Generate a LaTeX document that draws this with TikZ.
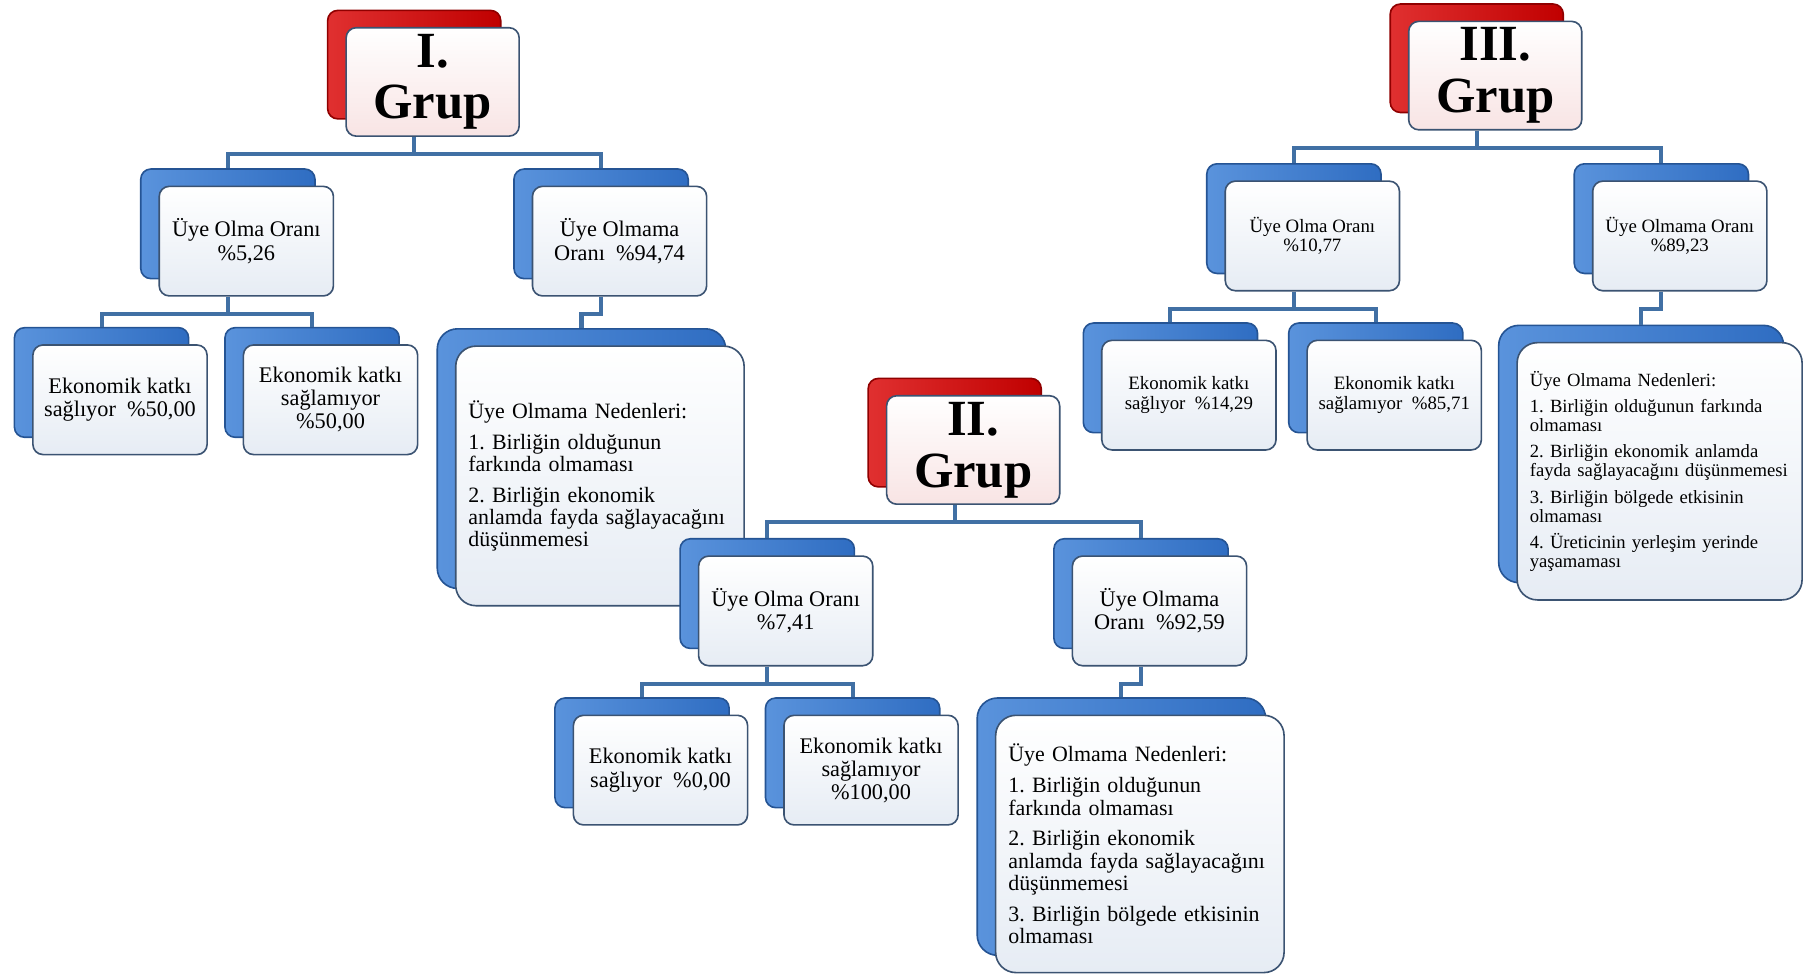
\documentclass[tikz,border=0pt]{standalone}
\usepackage{fontspec}
\setmainfont{Liberation Serif}
\usetikzlibrary{shadows}
\definecolor{slateedge}{HTML}{3B5372}
\definecolor{cardface}{HTML}{E6ECF4}
\definecolor{pinkface}{HTML}{F8E4E4}
\definecolor{blueshine}{HTML}{5A93DC}
\definecolor{bluebase}{HTML}{2F6DC2}
\definecolor{blueedge}{HTML}{255494}
\definecolor{redshine}{HTML}{E03030}
\definecolor{redbase}{HTML}{C00000}
\definecolor{rededge}{HTML}{900000}
\definecolor{linkblue}{HTML}{4170A4}
\frenchspacing

\begin{document}
\begin{tikzpicture}[
  card/.style={draw=slateedge, line width=0.8pt, rounded corners=5pt,
               top color=white, bottom color=cardface, align=center, inner sep=2pt},
  bluecard/.style={card, copy shadow={shadow xshift=-3.2mm, shadow yshift=3mm,
               left color=blueshine, right color=bluebase, draw=blueedge}},
  grp/.style={card, bottom color=pinkface, minimum width=3cm, minimum height=1.88cm,
              font=\bfseries\fontsize{25}{25.5}\selectfont,
              copy shadow={shadow xshift=-3.2mm, shadow yshift=3mm,
               left color=redshine, right color=redbase, draw=rededge}},
  rate/.style={bluecard, minimum width=3.02cm, minimum height=1.9cm,
               font=\fontsize{11}{11.4}\selectfont},
  why/.style={bluecard, rounded corners=10pt, align=left, text width=4.56cm,
              inner xsep=2.2mm, minimum height=4.5cm,
              font=\fontsize{10.8}{11}\selectfont},
  small/.style={font=\fontsize{9.3}{9.6}\selectfont},
  link/.style={draw=linkblue, line width=2pt}
]
\useasboundingbox (0,0) rectangle (31.36,-16.96);

%% I. Grup
\node[grp]  (grup1)     at (7.50,-1.42)  {I.\\Grup};
\node[rate] (olma1)     at (4.27,-4.18)  {Üye Olma Oranı\\\%5,26};
\node[rate] (olmama1)   at (10.74,-4.18) {Üye Olmama\\Oranı \ \%94,74};
\node[rate] (katki1)    at (2.08,-6.93)  {Ekonomik katkı\\sağlıyor \ \%50,00};
\node[rate] (katkisiz1) at (5.73,-6.93)  {Ekonomik katkı\\sağlamıyor\\\%50,00};
\node[why]  (neden1)    at (10.40,-8.25) {Üye Olmama Nedenleri:\\[4.2pt]
  1. Birliğin olduğunun\\farkında olmaması\\[4.2pt]
  2. Birliğin ekonomik\\anlamda fayda sağlayacağını\\düşünmemesi};

\foreach \p/\c in {grup1/olma1, grup1/olmama1, olma1/katki1, olma1/katkisiz1, olmama1/neden1}
  \draw[link] ([xshift=-3.2mm]\p.south) -- ++(0,-0.3) -| ([xshift=-3.2mm,yshift=3mm]\c.north);

%% II. Grup
\node[grp]  (grup2)     at (16.87,-7.80)  {II.\\Grup};
\node[rate] (olma2)     at (13.62,-10.59) {Üye Olma Oranı\\\%7,41};
\node[rate] (olmama2)   at (20.10,-10.59) {Üye Olmama\\Oranı \ \%92,59};
\node[rate] (katki2)    at (11.45,-13.35) {Ekonomik katkı\\sağlıyor \ \%0,00};
\node[rate] (katkisiz2) at (15.10,-13.35) {Ekonomik katkı\\sağlamıyor\\\%100,00};
\node[why, minimum height=4.46cm] (neden2) at (19.76,-14.63) {Üye Olmama Nedenleri:\\[4.2pt]
  1. Birliğin olduğunun\\farkında olmaması\\[4.2pt]
  2. Birliğin ekonomik\\anlamda fayda sağlayacağını\\düşünmemesi\\[4.2pt]
  3. Birliğin bölgede etkisinin\\olmaması};

\foreach \p/\c in {grup2/olma2, grup2/olmama2, olma2/katki2, olma2/katkisiz2, olmama2/neden2}
  \draw[link] ([xshift=-3.2mm]\p.south) -- ++(0,-0.3) -| ([xshift=-3.2mm,yshift=3mm]\c.north);

%% III. Grup
\node[grp]  (grup3)     at (25.92,-1.31) {III.\\Grup};
\node[rate, small] (olma3)     at (22.75,-4.09) {Üye Olma Oranı\\\%10,77};
\node[rate, small] (olmama3)   at (29.12,-4.09) {Üye Olmama Oranı\\\%89,23};
\node[rate, small] (katki3)    at (20.61,-6.85) {Ekonomik katkı\\sağlıyor \ \%14,29};
\node[rate, small] (katkisiz3) at (24.17,-6.85) {Ekonomik katkı\\sağlamıyor \ \%85,71};
\node[why, text width=4.5cm, minimum height=4.46cm,
      font=\fontsize{9.2}{9.35}\selectfont] (neden3) at (28.77,-8.17) {Üye Olmama Nedenleri:\\[3.7pt]
  1. Birliğin olduğunun farkında\\olmaması\\[3.7pt]
  2. Birliğin ekonomik anlamda\\fayda sağlayacağını düşünmemesi\\[3.7pt]
  3. Birliğin bölgede etkisinin\\olmaması\\[3.7pt]
  4. Üreticinin yerleşim yerinde\\yaşamaması};

\foreach \p/\c in {grup3/olma3, grup3/olmama3, olma3/katki3, olma3/katkisiz3, olmama3/neden3}
  \draw[link] ([xshift=-3.2mm]\p.south) -- ++(0,-0.3) -| ([xshift=-3.2mm,yshift=3mm]\c.north);

\end{tikzpicture}
\end{document}
